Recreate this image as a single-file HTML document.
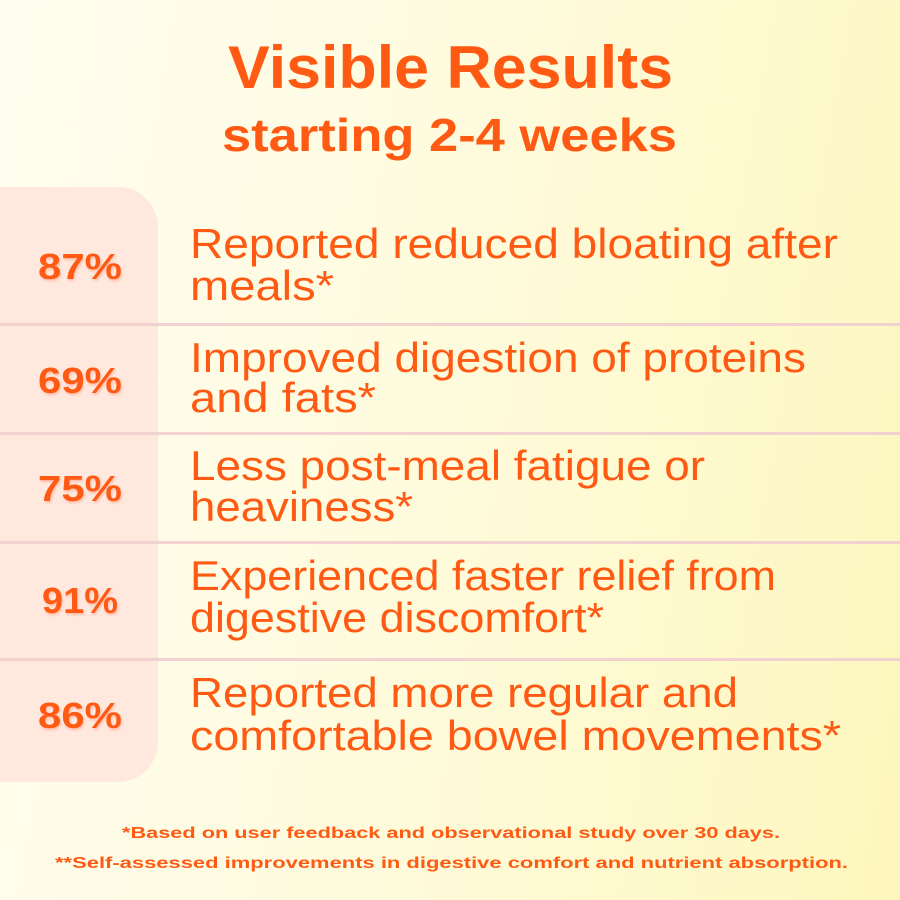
<!DOCTYPE html>
<html><head><meta charset="utf-8"><style>
html,body{margin:0;padding:0;width:900px;height:900px;overflow:hidden}
body{background:linear-gradient(100deg,#fffdf0 0%,#fefbdc 50%,#fdf7bd 100%)}
svg{display:block}
text{font-family:"Liberation Sans",sans-serif;fill:#ff5a14}
.b{font-weight:bold}
.p{font-weight:bold;font-size:36px;filter:drop-shadow(1px 2px 1px rgba(255,120,80,.35))}
.i{font-size:42px}
.f{font-weight:bold;font-size:16px}
</style></head><body>
<svg width="900" height="900" viewBox="0 0 900 900">
<path d="M0 187 H118 A40 40 0 0 1 158 227 V742 A40 40 0 0 1 118 782 H0 Z" fill="#ffe8de"/>
<g fill="#f1d2d0">
<rect x="0" y="323" width="900" height="3"/>
<rect x="0" y="432" width="900" height="3"/>
<rect x="0" y="541" width="900" height="3"/>
<rect x="0" y="658" width="900" height="3"/>
</g>
<text class="b" x="228" y="88" font-size="60" textLength="445" lengthAdjust="spacingAndGlyphs">Visible Results</text>
<text class="b" x="222" y="151" font-size="46" textLength="455" lengthAdjust="spacingAndGlyphs">starting 2-4 weeks</text>

<text class="p" x="38" y="279" textLength="84" lengthAdjust="spacingAndGlyphs">87%</text>
<text class="p" x="38" y="393" textLength="84" lengthAdjust="spacingAndGlyphs">69%</text>
<text class="p" x="38" y="501" textLength="84" lengthAdjust="spacingAndGlyphs">75%</text>
<text class="p" x="42" y="613" textLength="76" lengthAdjust="spacingAndGlyphs">91%</text>
<text class="p" x="38" y="728" textLength="84" lengthAdjust="spacingAndGlyphs">86%</text>

<text class="i" x="190" y="258" textLength="648" lengthAdjust="spacingAndGlyphs">Reported reduced bloating after</text>
<text class="i" x="190" y="300" textLength="144" lengthAdjust="spacingAndGlyphs">meals*</text>
<text class="i" x="190" y="372" textLength="616" lengthAdjust="spacingAndGlyphs">Improved digestion of proteins</text>
<text class="i" x="190" y="412" textLength="186" lengthAdjust="spacingAndGlyphs">and fats*</text>
<text class="i" x="190" y="480" textLength="515" lengthAdjust="spacingAndGlyphs">Less post-meal fatigue or</text>
<text class="i" x="190" y="521" textLength="223" lengthAdjust="spacingAndGlyphs">heaviness*</text>
<text class="i" x="190" y="590" textLength="586" lengthAdjust="spacingAndGlyphs">Experienced faster relief from</text>
<text class="i" x="190" y="632" textLength="414" lengthAdjust="spacingAndGlyphs">digestive discomfort*</text>
<text class="i" x="190" y="707" textLength="548" lengthAdjust="spacingAndGlyphs">Reported more regular and</text>
<text class="i" x="190" y="750" textLength="651" lengthAdjust="spacingAndGlyphs">comfortable bowel movements*</text>

<text class="f" x="122" y="838" textLength="658" lengthAdjust="spacingAndGlyphs">*Based on user feedback and observational study over 30 days.</text>
<text class="f" x="55" y="868" textLength="793" lengthAdjust="spacingAndGlyphs">**Self-assessed improvements in digestive comfort and nutrient absorption.</text>
</svg>
</body></html>
